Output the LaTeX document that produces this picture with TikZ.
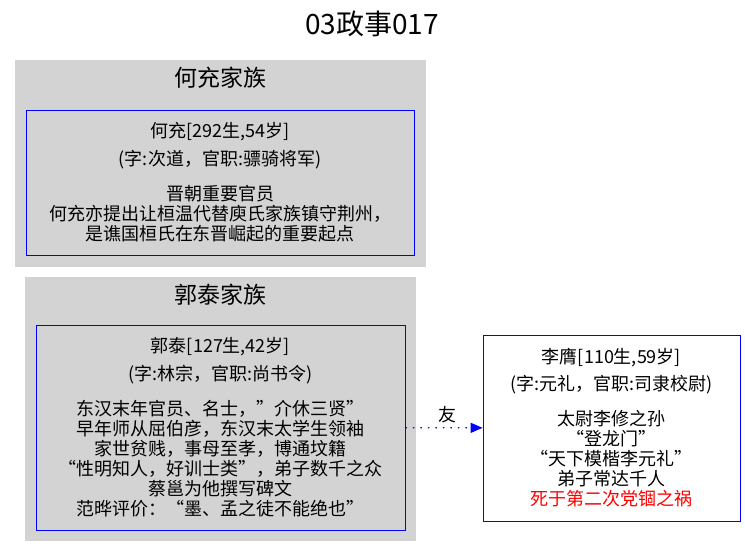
\documentclass[tikz,border=0pt]{standalone}
\usepackage{fontspec}
\setmainfont{Noto Sans CJK SC}
\usetikzlibrary{arrows.meta}
\definecolor{clustergray}{HTML}{D3D3D3}
\tikzset{
  cluster/.style={fill=clustergray},
  clusterlabel/.style={font=\fontsize{23}{26}\selectfont},
  person/.style={draw=blue, line width=0.8pt, fill=clustergray, align=center, inner sep=0pt,
    font=\fontsize{18}{20}\selectfont},
  friend/.style={draw=blue, line width=1.3pt, dash pattern=on 1.5pt off 6pt,
    -{Triangle[length=12pt,width=10pt]}},
}
\begin{document}
\begin{tikzpicture}[x=1pt,y=-1pt]
\useasboundingbox[fill=white] (0,0) rectangle (745,557);
\node[font=\fontsize{28}{30}\selectfont] (title) at (372,24) {03政事017};
% 何充家族
\fill[cluster] (15,60) rectangle (426,267);
\node[clusterlabel] (hechongfamily) at (220,78) {何充家族};
\node[person, minimum width=388pt, minimum height=145pt] (hechong) at (220,182.5)
  {何充[292生,54岁]\\[8pt]
   (字:次道，官职:骠骑将军)\\[15pt]
   晋朝重要官员\\
   何充亦提出让桓温代替庾氏家族镇守荆州，\\
   是谯国桓氏在东晋崛起的重要起点};
% 郭泰家族
\fill[cluster] (25,277) rectangle (416,541);
\node[clusterlabel] (guotaifamily) at (220,295) {郭泰家族};
\node[person, minimum width=369pt, minimum height=205pt] (guotai) at (220.5,427.5)
  {郭泰[127生,42岁]\\[8pt]
   (字:林宗，官职:尚书令)\\[15pt]
   东汉末年官员、名士，"介休三贤"\\
   早年师从屈伯彦，东汉末太学生领袖\\
   家世贫贱，事母至孝，博通坟籍\\
   “性明知人，好训士类”，弟子数千之众\\
   蔡邕为他撰写碑文\\
   范晔评价：“墨、孟之徒不能绝也”};
% 李膺
\node[person, fill=white, minimum width=257pt, minimum height=186pt] (liying) at (611.5,428)
  {李膺[110生,59岁]\\[7pt]
   (字:元礼，官职:司隶校尉)\\[15pt]
   太尉李修之孙\\
   “登龙门”\\
   “天下模楷李元礼”\\
   弟子常达千人\\
   \textcolor{red}{死于第二次党锢之祸}};
\draw[friend] (guotai) -- node[above=1pt, pos=0.55, font=\fontsize{18}{20}\selectfont] (friendlabel) {友} (liying);
\end{tikzpicture}
\end{document}
